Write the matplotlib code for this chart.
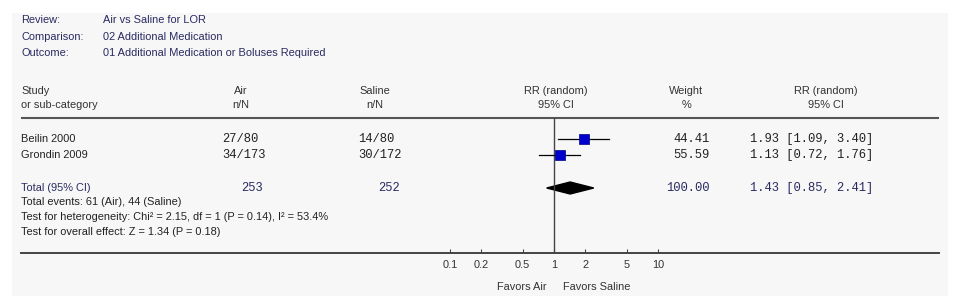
import numpy as np
import matplotlib
matplotlib.use("Agg")
import matplotlib.pyplot as plt
from matplotlib.patches import Rectangle, Polygon

# Forest plot data
studies = ["Beilin 2000", "Grondin 2009"]
air_events = ["27/80", "34/173"]
saline_events = ["14/80", "30/172"]
rr = [1.93, 1.13]
rr_lo = [1.09, 0.72]
rr_hi = [3.40, 1.76]
weights = [44.41, 55.59]

total_air = 253
total_saline = 252
total_rr = 1.43
total_lo = 0.85
total_hi = 2.41
total_weight = 100.00

header_keys = ["Review:", "Comparison:", "Outcome:"]
header_vals = ["Air vs Saline for LOR", "02 Additional Medication",
               "01 Additional Medication or Boluses Required"]
summary_lines = ["Total events: 61 (Air), 44 (Saline)",
                 "Test for heterogeneity: Chi\u00b2 = 2.15, df = 1 (P = 0.14), I\u00b2 = 53.4%",
                 "Test for overall effect: Z = 1.34 (P = 0.18)"]
ticks = [0.1, 0.2, 0.5, 1, 2, 5, 10]

W, H = 959, 307
navy = "#2a2a62"
dark = "#333333"
sans = "Liberation Sans"
mono = "Liberation Mono"
fs = 7.9
fm = 8.7

fig = plt.figure(figsize=(W / 100, H / 100), dpi=100)
fig.patch.set_facecolor("white")

# text layer in pixel coordinates
ax = fig.add_axes([0, 0, 1, 1])
ax.set_xlim(0, W)
ax.set_ylim(H, 0)
ax.axis("off")
ax.add_patch(Rectangle((12, 13), 936, 283, facecolor="#f7f7f7", edgecolor="none", zorder=0))

for i, (k, v) in enumerate(zip(header_keys, header_vals)):
    y = 20 + i * 16.5
    ax.text(21, y, k, fontsize=fs, family=sans, color=navy, va="center")
    ax.text(103, y, v, fontsize=fs, family=sans, color=navy, va="center")

# column headers
ax.text(21, 91, "Study", fontsize=fs, family=sans, color=dark, va="center")
ax.text(21, 105, "or sub-category", fontsize=fs, family=sans, color=dark, va="center")
for xc, l1, l2 in [(241, "Air", "n/N"), (375, "Saline", "n/N"), (556, "RR (random)", "95% CI"),
                   (686, "Weight", "%"), (826, "RR (random)", "95% CI")]:
    ax.text(xc, 91, l1, fontsize=fs, family=sans, color=dark, va="center", ha="center")
    ax.text(xc, 105, l2, fontsize=fs, family=sans, color=dark, va="center", ha="center")
ax.plot([21, 939], [118, 118], color="#555555", lw=1.5, solid_capstyle="butt")

# study rows
row_y = [139 + i * 16 for i in range(len(studies))]
for y, s, a, b, w, r, lo, hi in zip(row_y, studies, air_events, saline_events, weights, rr, rr_lo, rr_hi):
    ax.text(21, y, s, fontsize=fs, family=sans, color="#222222", va="center")
    ax.text(222, y, a, fontsize=fm, family=mono, color="#222222", va="center")
    ax.text(358, y, b, fontsize=fm, family=mono, color="#222222", va="center")
    ax.text(710, y, f"{w:.2f}", fontsize=fm, family=mono, color="#222222", va="center", ha="right")
    ax.text(750, y, f"{r:.2f} [{lo:.2f}, {hi:.2f}]", fontsize=fm, family=mono, color="#222222", va="center")

# total row
ty = 188
ax.text(21, ty, "Total (95% CI)", fontsize=fs, family=sans, color=navy, va="center")
ax.text(263, ty, str(total_air), fontsize=fm, family=mono, color=navy, va="center", ha="right")
ax.text(400, ty, str(total_saline), fontsize=fm, family=mono, color=navy, va="center", ha="right")
ax.text(710, ty, f"{total_weight:.2f}", fontsize=fm, family=mono, color=navy, va="center", ha="right")
ax.text(750, ty, f"{total_rr:.2f} [{total_lo:.2f}, {total_hi:.2f}]", fontsize=fm, family=mono,
        color=navy, va="center")
for i, line in enumerate(summary_lines):
    ax.text(21, 202 + i * 15, line, fontsize=fs, family=sans, color="#222222", va="center")

ax.text(547, 287, "Favors Air", fontsize=fs, family=sans, color=dark, va="center", ha="right")
ax.text(563, 287, "Favors Saline", fontsize=fs, family=sans, color=dark, va="center", ha="left")

# forest plot axes: 1 at x=554 px, 104 px per decade
x0, x1, xone, dec = 21, 939, 554, 104
y_top, y_bot = 118, 253
fax = fig.add_axes([x0 / W, 1 - y_bot / H, (x1 - x0) / W, (y_bot - y_top) / H])
fax.patch.set_alpha(0)
fax.set_xscale("log")
fax.set_xlim(10 ** ((x0 - xone) / dec), 10 ** ((x1 - xone) / dec))
fax.set_ylim(y_bot, y_top)
for sp in ["top", "left", "right"]:
    fax.spines[sp].set_visible(False)
fax.spines["bottom"].set_color("#444444")
fax.spines["bottom"].set_linewidth(1.4)
fax.set_yticks([])
fax.set_xticks(ticks)
fax.set_xticklabels([f"{t:g}" for t in ticks], fontsize=fs, family=sans, color=dark)
fax.xaxis.set_minor_locator(matplotlib.ticker.NullLocator())
fax.tick_params(axis="x", direction="in", length=3, width=0.8, color="#444444", pad=5)

fax.axvline(1, color="#444444", lw=1.0)
for y, r, lo, hi in zip(row_y, rr, rr_lo, rr_hi):
    fax.plot([lo, hi], [y, y], color="black", lw=0.9)
    fax.plot([r], [y], marker="s", ms=6.5, color="#0000cc", mec="#000088", mew=0.5)

fax.add_patch(Polygon([[total_lo, ty], [total_rr, ty - 6], [total_hi, ty], [total_rr, ty + 6]],
                      closed=True, facecolor="black", edgecolor="black"))

plt.savefig("out.png", dpi=100)
